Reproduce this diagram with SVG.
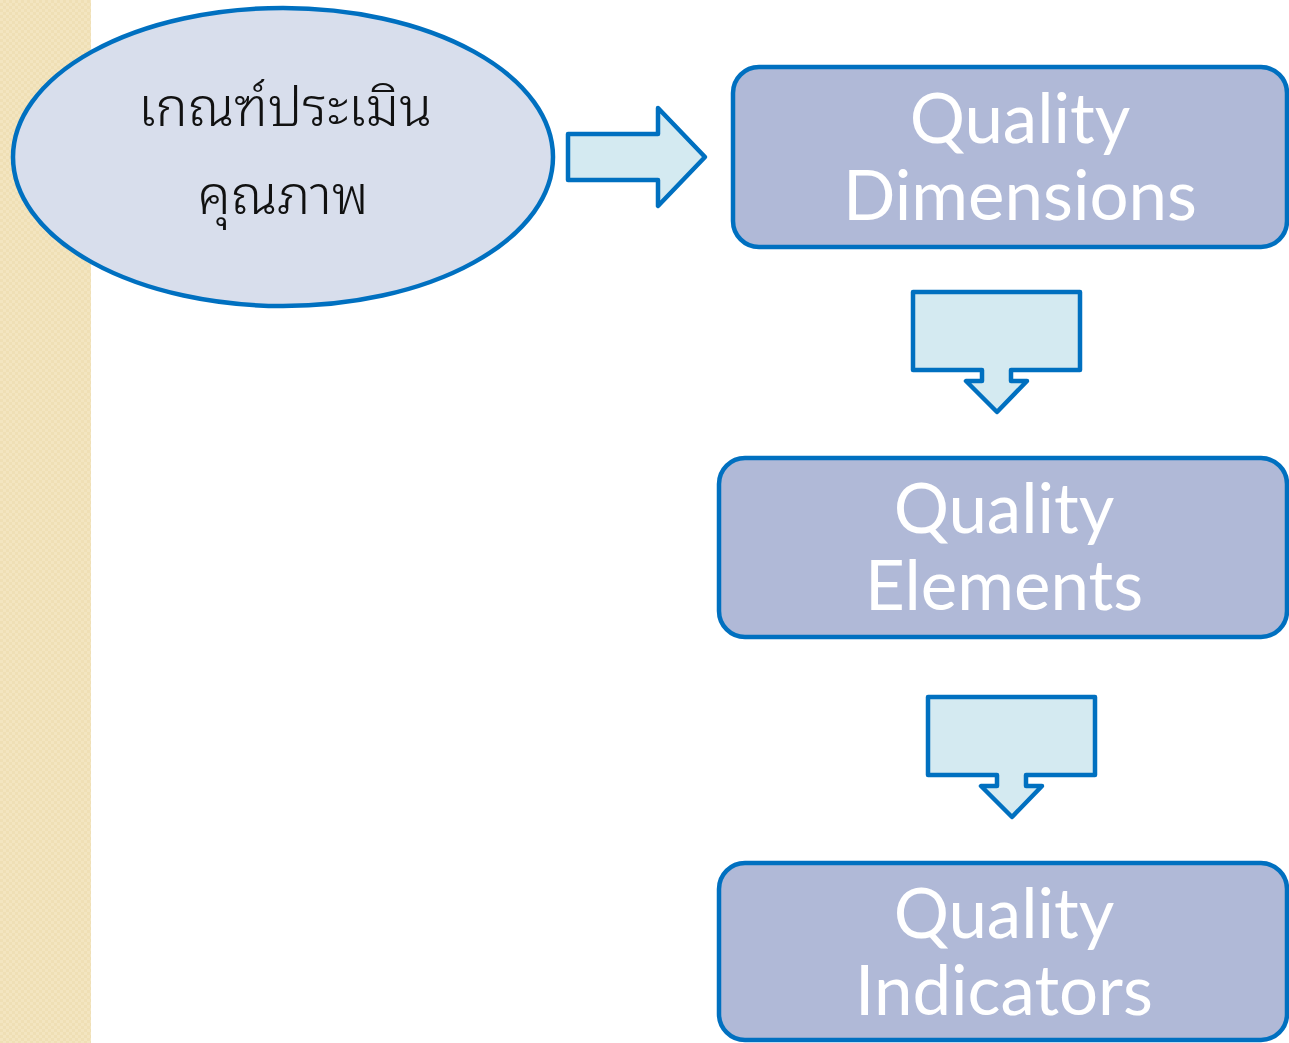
<svg xmlns="http://www.w3.org/2000/svg" width="1289" height="1043" viewBox="0 0 1289 1043">
  <defs>
    <pattern id="weave" width="6" height="6" patternUnits="userSpaceOnUse">
      <rect width="6" height="6" fill="#EFDFB5"/>
      <rect x="0" y="0" width="3" height="3" fill="#F3E5C0"/>
      <rect x="3" y="3" width="3" height="3" fill="#F3E5C0"/>
    </pattern>
    <style>
      .shape { stroke: #0070C0; stroke-width: 4.5; stroke-linejoin: round; }
      .box { fill: #B0B9D7; }
      .arrow { fill: #D4EAF1; }
      .label { font-family: "Lato", "Open Sans", "Liberation Sans", sans-serif; font-size: 69px; fill: #FFFFFF; text-anchor: middle; }
      .thai { font-family: "Noto Sans Thai Looped", "Noto Sans Thai", "Noto Sans", "DejaVu Sans", sans-serif; font-size: 54px; font-weight: 300; fill: #111111; text-anchor: middle; }
    </style>
  </defs>

  <rect width="1289" height="1043" fill="#FFFFFF"/>
  <!-- textured side band -->
  <rect x="0" y="0" width="91" height="1043" fill="url(#weave)"/>

  <g id="criteria">
    <ellipse cx="283" cy="157" rx="270" ry="149" fill="#D8DEEC" class="shape"/>
    <text class="thai" x="285" y="126">เกณฑ์ประเมิน</text>
    <text class="thai" x="283" y="214">คุณภาพ</text>
  </g>

  <g id="dimensions">
    <rect x="733" y="67" width="554" height="180" rx="26" class="shape box"/>
    <text class="label" x="1020" y="143">Quality</text>
    <text class="label" x="1020" y="220">Dimensions</text>
  </g>

  <g id="elements">
    <rect x="719" y="458" width="568" height="179" rx="26" class="shape box"/>
    <text class="label" x="1004" y="533">Quality</text>
    <text class="label" x="1004" y="610">Elements</text>
  </g>

  <g id="indicators">
    <rect x="719" y="863" width="568" height="177" rx="26" class="shape box"/>
    <text class="label" x="1004" y="938">Quality</text>
    <text class="label" x="1004" y="1015">Indicators</text>
  </g>

  <g id="connectors">
    <!-- right-pointing block arrow -->
    <path class="shape arrow" d="M568,134 L658,134 L658,108 L705,157 L658,206 L658,180 L568,180 Z"/>
    <!-- callout-style down arrows -->
    <path class="shape arrow" d="M913,292 L1080,292 L1080,370 L1011,370 L1011,381 L1027,381 L997,412 L966,381 L982,381 L982,370 L913,370 Z"/>
    <path class="shape arrow" d="M928,697 L1095,697 L1095,775 L1026,775 L1026,786 L1042,786 L1012,817 L981,786 L997,786 L997,775 L928,775 Z"/>
  </g>
</svg>
